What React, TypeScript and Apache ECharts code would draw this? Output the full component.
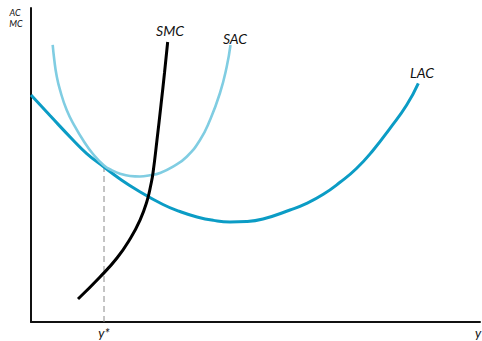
import React, { useEffect, useRef } from "react";
import * as echarts from "echarts";

// Curve data (x: output units 0..100, y: cost units 0..100)
const lacData: [number, number][] = [
  [0.0, 72.29], [4.23, 65.76], [9.35, 57.96], [12.41, 53.66], [16.26, 49.36],
  [19.82, 45.54], [23.61, 42.04], [29.4, 37.42], [33.18, 35.19], [36.97, 33.44],
  [40.65, 32.36], [44.32, 31.88], [48.0, 32.01], [51.67, 32.8], [57.68, 35.67],
  [61.4, 37.8], [65.1, 40.67], [68.82, 44.49], [72.54, 48.95], [76.24, 54.78],
  [79.96, 61.69], [83.67, 69.11], [86.26, 76.02],
];
const sacData: [number, number][] = [
  [4.83, 88.22], [5.19, 83.44], [5.68, 78.66], [6.46, 73.89], [7.95, 67.52],
  [9.8, 62.2], [11.58, 57.96], [13.81, 53.5], [16.26, 49.84], [18.04, 48.31],
  [19.82, 47.23], [22.05, 46.5], [24.27, 46.34], [26.5, 46.72], [28.73, 47.45],
  [31.63, 49.46], [34.68, 52.64], [37.64, 57.96], [39.87, 64.33], [42.09, 72.93],
  [43.59, 81.31], [44.43, 88.22],
];
const smcData: [number, number][] = [
  [10.47, 7.32], [15.37, 14.33], [19.15, 20.38], [22.05, 26.43], [24.28, 32.48],
  [25.84, 38.54], [26.73, 43.95], [27.17, 47.45], [28.06, 57.96], [28.95, 69.11],
  [29.73, 79.3], [30.44, 89.17],
];
const yStar = 16.26;
const yStarCost = 49.36;
const dashData: [number, number][] = [[yStar, 0], [yStar, yStarCost]];

const labelFont = "Lato, 'Open Sans', sans-serif";

export default function App() {
  const ref = useRef<HTMLDivElement>(null);
  useEffect(() => {
    if (!ref.current) return;
    const chart = echarts.init(ref.current, undefined, { renderer: "svg" });
    const txt = (x: number, y: number, text: string, size: number) => ({
      type: "text",
      x,
      y,
      style: {
        text,
        fontFamily: labelFont,
        fontStyle: "italic",
        fontSize: size,
        fill: "#111",
        textAlign: "center",
        textVerticalAlign: "middle",
      },
    });
    chart.setOption({
      animation: false,
      backgroundColor: "#fff",
      grid: { left: 31, right: 2, top: 8, bottom: 19, containLabel: false },
      xAxis: {
        type: "value",
        min: 0,
        max: 100,
        axisLine: { show: true, onZero: false, lineStyle: { color: "#111", width: 2 } },
        axisTick: { show: false },
        axisLabel: { show: false },
        splitLine: { show: false },
      },
      yAxis: {
        type: "value",
        min: 0,
        max: 100,
        axisLine: { show: true, onZero: false, lineStyle: { color: "#111", width: 2 } },
        axisTick: { show: false },
        axisLabel: { show: false },
        splitLine: { show: false },
      },
      graphic: [
        txt(15, 12, "AC", 9),
        txt(16, 23.5, "MC", 9),
        txt(170, 30, "SMC", 14),
        txt(235, 38, "SAC", 14),
        txt(422, 72, "LAC", 14),
        txt(104, 333, "y*", 13),
        txt(478, 333, "y", 13),
      ],
      series: [
        {
          type: "line",
          data: dashData,
          symbol: "none",
          lineStyle: { color: "#8a8a8a", width: 1, type: [6, 4] },
          z: 1,
        },
        {
          type: "line",
          data: lacData,
          smooth: 0.5,
          symbol: "none",
          lineStyle: { color: "#0b9cc5", width: 3 },
          z: 2,
        },
        {
          type: "line",
          data: sacData,
          smooth: 0.5,
          symbol: "none",
          lineStyle: { color: "#80cde2", width: 2.6 },
          z: 3,
        },
        {
          type: "line",
          data: smcData,
          smooth: 0.5,
          symbol: "none",
          lineStyle: { color: "#000", width: 3 },
          z: 4,
        },
      ],
    });
    return () => chart.dispose();
  }, []);
  return (
    <div
      ref={ref}
      style={{ position: "fixed", left: 0, top: 0, width: 482, height: 341 }}
    />
  );
}
